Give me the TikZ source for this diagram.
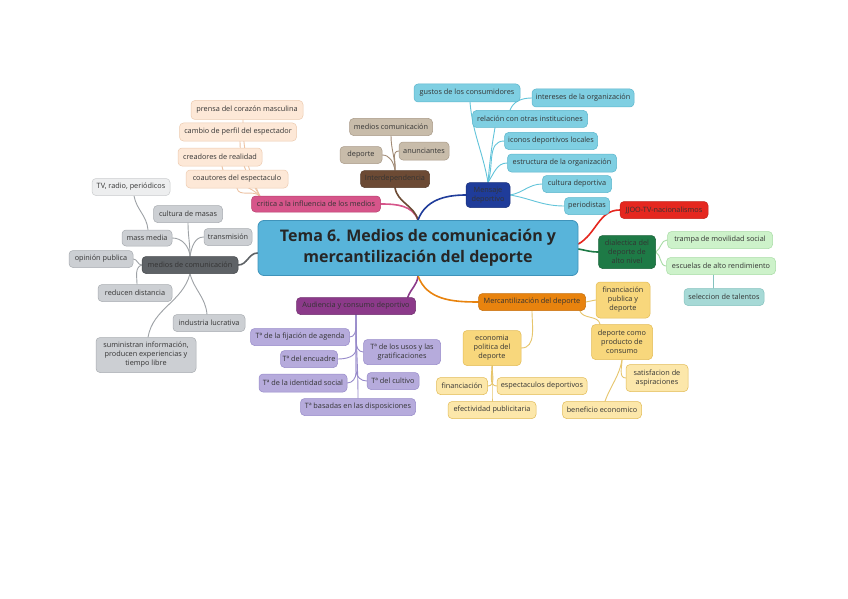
\documentclass[tikz,border=0pt]{standalone}
\usepackage{fontspec}
\setmainfont{Open Sans}
\usetikzlibrary{backgrounds}
\definecolor{titlefill}{HTML}{58B4DA}\definecolor{titledraw}{HTML}{3F93BA}
\definecolor{peachF}{HTML}{FDE8D7}\definecolor{peachD}{HTML}{EDCBB0}\definecolor{peachL}{HTML}{EDC3A3}
\definecolor{pinkF}{HTML}{D6558A}\definecolor{pinkD}{HTML}{B9406F}
\definecolor{grayF}{HTML}{CCCFD3}\definecolor{grayD}{HTML}{A8ACB1}\definecolor{grayLF}{HTML}{EDEEEF}\definecolor{grayLD}{HTML}{CACCCE}
\definecolor{grayM}{HTML}{5E6266}\definecolor{grayMD}{HTML}{46494C}\definecolor{grayL}{HTML}{9EA2A6}
\definecolor{tanF}{HTML}{C8BCAA}\definecolor{tanD}{HTML}{A99A88}\definecolor{brownM}{HTML}{6C4A34}\definecolor{brownL}{HTML}{A08A75}
\definecolor{blueM}{HTML}{1F3C9A}\definecolor{blueF}{HTML}{7FCFE2}\definecolor{blueD}{HTML}{5BB6CC}\definecolor{blueL}{HTML}{62C4DA}
\definecolor{redM}{HTML}{E5271F}
\definecolor{greenM}{HTML}{1E7A46}\definecolor{greenF}{HTML}{CDF2CA}\definecolor{greenD}{HTML}{A8DCA5}\definecolor{tealF}{HTML}{A6D9D6}\definecolor{tealD}{HTML}{84C2BE}
\definecolor{purpleM}{HTML}{8C3A8A}\definecolor{lavF}{HTML}{B6ABDC}\definecolor{lavD}{HTML}{978ACA}
\definecolor{orangeM}{HTML}{E8830E}\definecolor{yelF}{HTML}{F8D77C}\definecolor{yelD}{HTML}{E2BB55}\definecolor{yelLF}{HTML}{FCE7AA}\definecolor{yelL}{HTML}{E6C56C}
\newcommand\fsm{\fontsize{7.3}{9}\selectfont}
\begin{document}
\begin{tikzpicture}[x=1pt,y=-1pt,
  box/.style={rounded corners=4pt, draw, line width=0.5pt, inner sep=1pt, align=center, font=\fsm, text=black!80},
  sz/.style 2 args={minimum width=#1pt, minimum height=#2pt},
  title/.style={rounded corners=6pt, draw=titledraw, fill=titlefill, line width=0.8pt, align=center, text=black!85,
     font=\fontsize{16}{21}\selectfont\bfseries, inner sep=0pt},
  peach/.style={box, fill=peachF, draw=peachD},
  pinkn/.style={box, fill=pinkF, draw=pinkD},
  grayn/.style={box, fill=grayF, draw=grayD},
  graylight/.style={box, fill=grayLF, draw=grayLD},
  graydark/.style={box, fill=grayM, draw=grayMD},
  tann/.style={box, fill=tanF, draw=tanD},
  brownn/.style={box, fill=brownM, draw=brownM!80!black},
  bluen/.style={box, fill=blueF, draw=blueD},
  bluedark/.style={box, fill=blueM, draw=blueM!80!black},
  redn/.style={box, fill=redM, draw=redM!85!black},
  greendark/.style={box, fill=greenM, draw=greenM!80!black},
  greenn/.style={box, fill=greenF, draw=greenD},
  tealn/.style={box, fill=tealF, draw=tealD},
  purpledark/.style={box, fill=purpleM, draw=purpleM!80!black},
  lavn/.style={box, fill=lavF, draw=lavD},
  orangedark/.style={box, fill=orangeM, draw=orangeM!85!black},
  yeln/.style={box, fill=yelF, draw=yelD},
  yellight/.style={box, fill=yelLF, draw=yelD},
  mainc/.style={line width=1.6pt, line cap=round},
  subc/.style={line width=0.9pt, line cap=round}
]
\useasboundingbox (0,0) rectangle (848,599);

% central
\node[title, sz={320}{55}] (c) at (418,248) {Tema 6. Medios de comunicación y\\mercantilización del deporte};

% peach / critica
\node[peach, sz={112}{19}] (p1) at (247,110) {prensa del corazón masculina};
\node[peach, sz={117}{18}] (p2) at (238,132) {cambio de perfil del espectador};
\node[peach, sz={84}{18}] (p3) at (220,157) {creadores de realidad};
\node[peach, sz={102}{18}] (p4) at (237,179) {coautores del espectaculo};
\node[pinkn, sz={129}{16}] (cr) at (316,204) {critica a la influencia de los medios};

% gray
\node[graylight, sz={78}{17}] (g0) at (131,187) {TV, radio, periódicos};
\node[grayn, sz={69}{17}] (g1) at (188,214) {cultura de masas};
\node[grayn, sz={50}{16}] (g2) at (147,238) {mass media};
\node[grayn, sz={48}{17}] (g3) at (228,237) {transmisión};
\node[grayn, sz={64}{17}] (g4) at (101,259) {opinión publica};
\node[graydark, sz={96}{17}] (gm) at (190,265) {medios de comunicación};
\node[grayn, sz={74}{17}] (g5) at (135,293) {reducen distancia};
\node[grayn, sz={72}{17}] (g6) at (209,323) {industria lucrativa};
\node[grayn, sz={100}{35}] (g7) at (146,355) {suministran información,\\producen experiencias y\\tiempo libre};

% brown
\node[tann, sz={83}{17}] (b1) at (391,127) {medios comunicación};
\node[tann, sz={42}{17}] (b2) at (361,155) {deporte};
\node[tann, sz={50}{18}] (b3) at (424,151) {anunciantes};
\node[brownn, sz={69}{17}] (bm) at (395,179) {Interdependencia};

% blue
\node[bluen, sz={106}{18}] (l1) at (467,93) {gustos de los consumidores};
\node[bluen, sz={102}{18}] (l2) at (583,98) {intereses de la organización};
\node[bluen, sz={115}{17}] (l3) at (530,119) {relación con otras instituciones};
\node[bluen, sz={93}{17}] (l4) at (551,141) {iconos deportivos locales};
\node[bluen, sz={109}{18}] (l5) at (562,163) {estructura de la organización};
\node[bluen, sz={69}{17}] (l6) at (577,184) {cultura deportiva};
\node[bluen, sz={45}{17}] (l7) at (587,206) {periodistas};
\node[bluedark, sz={44}{25}] (ms) at (488,195) {Mensaje\\deportivo};

% right
\node[redn, sz={88}{17}] (jj) at (664,210) {JJOO-TV-nacionalismos};
\node[greendark, sz={57}{33}] (dl) at (627,252) {dialectica del\\deporte de\\alto nivel};
\node[greenn, sz={105}{17}] (t1) at (720,240) {trampa de movilidad social};
\node[greenn, sz={109}{17}] (t2) at (721,266) {escuelas de alto rendimiento};
\node[tealn, sz={80}{17}] (t3) at (724,297) {seleccion de talentos};

% purple
\node[purpledark, sz={119}{17}] (au) at (356,306) {Audiencia y consumo deportivo};
\node[lavn, sz={99}{17}] (a1) at (300,337) {Tª de la fijación de agenda};
\node[lavn, sz={57}{17}] (a2) at (309,359) {Tª del encuadre};
\node[lavn, sz={77}{25}] (a3) at (402,352) {Tª de los usos y las\\gratificaciones};
\node[lavn, sz={88}{18}] (a4) at (303,383) {Tª de la identidad social};
\node[lavn, sz={52}{17}] (a5) at (393,381) {Tª del cultivo};
\node[lavn, sz={115}{17}] (a6) at (358,407) {Tª basadas en las disposiciones};

% orange
\node[orangedark, sz={107}{17}] (mc) at (532,302) {Mercantilización del deporte};
\node[yeln, sz={54}{36}] (o1) at (623,300) {financiación\\publica y\\deporte};
\node[yeln, sz={61}{35}] (o2) at (622,342) {deporte como\\producto de\\consumo};
\node[yeln, sz={58}{35}] (o3) at (492,348) {economia\\politica del\\deporte};
\node[yellight, sz={51}{17}] (o4) at (462,386) {financiación};
\node[yellight, sz={90}{17}] (o5) at (542,386) {espectaculos deportivos};
\node[yellight, sz={88}{17}] (o6) at (492,410) {efectividad publicitaria};
\node[yellight, sz={62}{27}] (o7) at (657,378) {satisfacion de\\aspiraciones};
\node[yellight, sz={79}{17}] (o8) at (602,410) {beneficio economico};

\begin{scope}[on background layer]
\fill[white] (0,0) rectangle (848,599);
% main branches
\draw[mainc, grayM] ([yshift=-5]c.west) to[out=180,in=0] (gm.east);
\draw[mainc, pinkF] (c.north) to[out=110,in=0] (cr.east);
\draw[mainc, brownM] (c.north) to[out=105,in=-80] (bm.south);
\draw[mainc, blueM] (c.north) to[out=70,in=180] (ms.west);
\draw[mainc, redM] ([yshift=4]c.east) to[out=30,in=180] (jj.west);
\draw[mainc, greenM] ([yshift=-1]c.east) to[out=-10,in=180] (dl.west);
\draw[mainc, purpleM] (c.south) to[out=-95,in=70] ([xshift=-8]au.north east);
\draw[mainc, orangeM] (c.south) to[out=-70,in=180] (mc.west);

% critica
\coordinate (crs) at ([xshift=9,yshift=-1]cr.north west);
\draw[subc, peachL] (crs) to[out=125,in=-80] (p4.south);
\draw[subc, peachL] (crs) to[out=130,in=-80] ([xshift=2]p3.south);
\draw[subc, peachL] (crs) to[out=120,in=-90] ([xshift=2]p2.south);
\draw[subc, peachL] (crs) to[out=115,in=-90] ([xshift=-4]p1.south);

% gray
\draw[subc, grayL] (gm.north) to[out=95,in=0] (g2.east);
\draw[subc, grayL] (gm.north) to[out=90,in=-90] (g1.south);
\draw[subc, grayL] (gm.north) to[out=80,in=180] (g3.west);
\draw[subc, grayL] ([xshift=1]g2.north) to[out=95,in=-80] ([xshift=3]g0.south);
\draw[subc, grayL] (gm.west) to[out=180,in=0] (g4.east);
\draw[subc, grayL] (gm.west) to[out=200,in=90] ([xshift=2]g5.north);
\draw[subc, grayL] (gm.south) to[out=-75,in=95] ([xshift=-2]g6.north);
\draw[subc, grayL] (gm.south) to[out=-105,in=80] ([xshift=2]g7.north);

% brown
\draw[subc, brownL] (bm.north) to[out=90,in=-90] (b1.south);
\draw[subc, brownL] (bm.north) to[out=100,in=0] (b2.east);
\draw[subc, brownL] (bm.north) to[out=80,in=180] (b3.west);

% blue
\draw[subc, blueL] (ms.north) to[out=100,in=-85] ([xshift=3]l1.south);
\draw[subc, blueL] (ms.north) to[out=85,in=-100] ([xshift=-35]l3.south);
\draw[subc, blueL] (ms.north) to[out=70,in=180] (l4.west);
\draw[subc, blueL] (ms.north) to[out=55,in=180] (l5.west);
\draw[subc, blueL] (ms.east) to[out=10,in=180] (l6.west);
\draw[subc, blueL] (ms.east) to[out=-10,in=180] (l7.west);
\draw[subc, blueL] ([xshift=-20]l3.north) to[out=70,in=180] (l2.west);

% green
\draw[subc, greenD] (dl.east) to[out=30,in=180] (t1.west);
\draw[subc, greenD] (dl.east) to[out=-30,in=180] (t2.west);
\draw[subc, tealD] ([xshift=-8]t2.south) to[out=-90,in=90] ([xshift=-11]t3.north);

% purple
\draw[subc, lavD] (au.south) to[out=-90,in=90] (a6.north);
\draw[subc, lavD] (au.south) -- ++(0,12) to[out=-90,in=0] (a1.east);
\draw[subc, lavD] (au.south) -- ++(0,34) to[out=-90,in=0] (a2.east);
\draw[subc, lavD] (au.south) -- ++(0,58) to[out=-90,in=0] (a4.east);
\draw[subc, lavD] (au.south) -- ++(0,27) to[out=-90,in=180] (a3.west);
\draw[subc, lavD] (au.south) -- ++(0,56) to[out=-90,in=180] (a5.west);

% orange
\draw[subc, yelL] (mc.east) to[out=0,in=180] (o1.west);
\draw[subc, yelL] ([xshift=-6]mc.south east) to[out=-70,in=100] ([xshift=-22]o2.north);
\draw[subc, yelL] (mc.south) to[out=-90,in=0] (o3.east);
\draw[subc, yelL] (o3.south) to[out=-90,in=0] (o4.east);
\draw[subc, yelL] (o3.south) to[out=-90,in=180] (o5.west);
\draw[subc, yelL] (o3.south) to[out=-90,in=90] (o6.north);
\draw[subc, yelL] (o2.south) to[out=-90,in=180] (o7.west);
\draw[subc, yelL] (o2.south) to[out=-100,in=70] ([xshift=3]o8.north);
\end{scope}
\end{tikzpicture}
\end{document}
